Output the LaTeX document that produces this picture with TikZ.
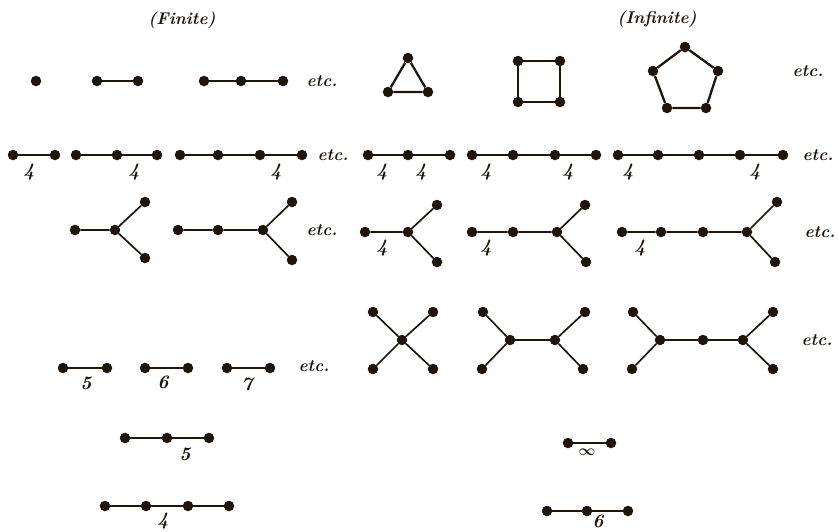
\documentclass[tikz,border=0pt]{standalone}
\usepackage{amsmath}
\definecolor{ink}{RGB}{30,22,12}
\tikzset{
  v/.style={circle,fill=ink,inner sep=0pt,minimum size=10.5pt},
  e/.style={draw=ink,line width=1.7pt},
  ep/.style={draw=ink,line width=2.3pt},
  ttl/.style={text=ink,inner sep=0pt,font=\fontsize{17}{20}\selectfont\bfseries\itshape},
  lbl/.style={text=ink,inner sep=0pt,font=\fontsize{19}{22}\selectfont\bfseries\itshape},
  etcl/.style={text=ink,inner sep=0pt,font=\fontsize{17}{20}\selectfont\bfseries\itshape},
}
\begin{document}
\begin{tikzpicture}[x=1pt,y=-1pt]
\useasboundingbox (0,0) rectangle (838,531);
% titles
\node[ttl] (tfin) at (182,20) {(Finite)};
\node[ttl] (tinf) at (657,19) {(Infinite)};

% ---------- row 1 finite ----------
\node[v] (a1) at (36,81) {};
\node[v] (b1) at (97,81) {}; \node[v] (b2) at (138,81) {};
\draw[e] (b1) -- (b2);
\node[v] (c1) at (204,81) {}; \node[v] (c2) at (241,81) {}; \node[v] (c3) at (283,81) {};
\draw[e] (c1) -- (c2) -- (c3);
\node[etcl] (etc1) at (322,81) {etc.};

% ---------- row 1 infinite ----------
\node[v] (t1) at (408,58) {}; \node[v] (t2) at (388,92) {}; \node[v] (t3) at (428,92) {};
\draw[ep] (t1) -- (t2) -- (t3) -- (t1);
\node[v] (s1) at (518,61) {}; \node[v] (s2) at (560,61) {}; \node[v] (s3) at (560,102) {}; \node[v] (s4) at (518,102) {};
\draw[ep] (s1) -- (s2) -- (s3) -- (s4) -- (s1);
\node[v] (p1) at (685,47) {}; \node[v] (p2) at (718,71) {}; \node[v] (p3) at (706,108) {}; \node[v] (p4) at (667,108) {}; \node[v] (p5) at (653,71) {};
\draw[ep] (p1) -- (p2) -- (p3) -- (p4) -- (p5) -- (p1);
\node[etcl] (etc2) at (808,71) {etc.};

% ---------- row 2 finite ----------
\node[v] (d1) at (13,155) {}; \node[v] (d2) at (55,155) {};
\draw[e] (d1) -- (d2);
\node[lbl] (ld) at (29,172) {4};
\node[v] (f1) at (76,155) {}; \node[v] (f2) at (117,155) {}; \node[v] (f3) at (157,155) {};
\draw[e] (f1) -- (f2) -- (f3);
\node[lbl] (lf) at (134,172) {4};
\node[v] (g1) at (180,155) {}; \node[v] (g2) at (218,155) {}; \node[v] (g3) at (260,155) {}; \node[v] (g4) at (302,155) {};
\draw[e] (g1) -- (g2) -- (g3) -- (g4);
\node[lbl] (lg) at (276,172) {4};
\node[etcl] (etc3) at (333,155) {etc.};

% ---------- row 2 infinite ----------
\node[v] (h1) at (368,155) {}; \node[v] (h2) at (408,155) {}; \node[v] (h3) at (450,155) {};
\draw[e] (h1) -- (h2) -- (h3);
\node[lbl] (lh1) at (382,172) {4}; \node[lbl] (lh2) at (421,172) {4};
\node[v] (i1) at (472,155) {}; \node[v] (i2) at (513,155) {}; \node[v] (i3) at (555,155) {}; \node[v] (i4) at (596,155) {};
\draw[e] (i1) -- (i2) -- (i3) -- (i4);
\node[lbl] (li1) at (486,172) {4}; \node[lbl] (li2) at (568,172) {4};
\node[v] (j1) at (618,155) {}; \node[v] (j2) at (658,155) {}; \node[v] (j3) at (699,155) {}; \node[v] (j4) at (740,155) {}; \node[v] (j5) at (783,155) {};
\draw[e] (j1) -- (j2) -- (j3) -- (j4) -- (j5);
\node[lbl] (lj1) at (628,172) {4}; \node[lbl] (lj2) at (755,172) {4};
\node[etcl] (etc4) at (818,155) {etc.};

% ---------- row 3 finite ----------
\node[v] (k1) at (75,230) {}; \node[v] (k2) at (115,230) {}; \node[v] (kt) at (145,202) {}; \node[v] (kb) at (145,258) {};
\draw[e] (k1) -- (k2) -- (kt); \draw[e] (k2) -- (kb);
\node[v] (m1) at (178,230) {}; \node[v] (m2) at (218,230) {}; \node[v] (m3) at (263,230) {}; \node[v] (mt) at (292,202) {}; \node[v] (mb) at (292,260) {};
\draw[e] (m1) -- (m2) -- (m3) -- (mt); \draw[e] (m3) -- (mb);
\node[etcl] (etc5) at (322,230) {etc.};

% ---------- row 3 infinite ----------
\node[v] (n1) at (365,232) {}; \node[v] (n2) at (408,232) {}; \node[v] (nt) at (437,205) {}; \node[v] (nb) at (437,262) {};
\draw[e] (n1) -- (n2) -- (nt); \draw[e] (n2) -- (nb);
\node[lbl] (ln) at (382,248) {4};
\node[v] (o1) at (472,232) {}; \node[v] (o2) at (513,232) {}; \node[v] (o3) at (557,232) {}; \node[v] (ot) at (585,205) {}; \node[v] (ob) at (586,262) {};
\draw[e] (o1) -- (o2) -- (o3) -- (ot); \draw[e] (o3) -- (ob);
\node[lbl] (lo) at (486,248) {4};
\node[v] (q1) at (622,232) {}; \node[v] (q2) at (661,232) {}; \node[v] (q3) at (703,232) {}; \node[v] (q4) at (747,232) {}; \node[v] (qt) at (777,202) {}; \node[v] (qb) at (775,262) {};
\draw[e] (q1) -- (q2) -- (q3) -- (q4) -- (qt); \draw[e] (q4) -- (qb);
\node[lbl] (lq) at (640,248) {4};
\node[etcl] (etc6) at (820,232) {etc.};

% ---------- row 4 infinite (X and H) ----------
\node[v] (x0) at (402,340) {};
\node[v] (xa) at (373,312) {}; \node[v] (xb) at (433,312) {}; \node[v] (xc) at (373,369) {}; \node[v] (xd) at (433,369) {};
\draw[e] (xa) -- (x0) -- (xd); \draw[e] (xb) -- (x0) -- (xc);
\node[v] (y1) at (510,340) {}; \node[v] (y2) at (555,340) {};
\node[v] (ya) at (483,312) {}; \node[v] (yc) at (482,369) {}; \node[v] (yb) at (585,312) {}; \node[v] (yd) at (583,369) {};
\draw[e] (ya) -- (y1) -- (yc); \draw[e] (y1) -- (y2); \draw[e] (yb) -- (y2) -- (yd);
\node[v] (z1) at (660,340) {}; \node[v] (z2) at (703,340) {}; \node[v] (z3) at (743,340) {};
\node[v] (za) at (633,312) {}; \node[v] (zc) at (632,369) {}; \node[v] (zb) at (773,312) {}; \node[v] (zd) at (773,369) {};
\draw[e] (za) -- (z1) -- (zc); \draw[e] (z1) -- (z2) -- (z3); \draw[e] (zb) -- (z3) -- (zd);
\node[etcl] (etc7) at (817,340) {etc.};

% ---------- row 4 finite ----------
\node[v] (r1) at (63,368) {}; \node[v] (r2) at (107,368) {};
\draw[e] (r1) -- (r2);
\node[lbl] (lr) at (86,383) {5};
\node[v] (u1) at (145,368) {}; \node[v] (u2) at (188,368) {};
\draw[e] (u1) -- (u2);
\node[lbl] (lu) at (163,382) {6};
\node[v] (w1) at (227,368) {}; \node[v] (w2) at (270,368) {};
\draw[e] (w1) -- (w2);
\node[lbl] (lw) at (247,384) {7};
\node[etcl] (etc8) at (314,366) {etc.};

% ---------- row 5 ----------
\node[v] (aa1) at (125,438) {}; \node[v] (aa2) at (167,438) {}; \node[v] (aa3) at (209,438) {};
\draw[e] (aa1) -- (aa2) -- (aa3);
\node[lbl] (laa) at (185,454) {5};
\node[v] (bb1) at (568,443) {}; \node[v] (bb2) at (611,443) {};
\draw[e] (bb1) -- (bb2);
\node[lbl,scale=0.85] (lbb) at (587,452) {$\boldsymbol{\infty}$};

% ---------- row 6 ----------
\node[v] (cc1) at (105,506) {}; \node[v] (cc2) at (146,506) {}; \node[v] (cc3) at (188,506) {}; \node[v] (cc4) at (229,506) {};
\draw[e] (cc1) -- (cc2) -- (cc3) -- (cc4);
\node[lbl] (lcc) at (163,521) {4};
\node[v] (dd1) at (547,511) {}; \node[v] (dd2) at (587,511) {}; \node[v] (dd3) at (628,511) {};
\draw[e] (dd1) -- (dd2) -- (dd3);
\node[lbl] (ldd) at (598,521) {6};
\end{tikzpicture}
\end{document}
